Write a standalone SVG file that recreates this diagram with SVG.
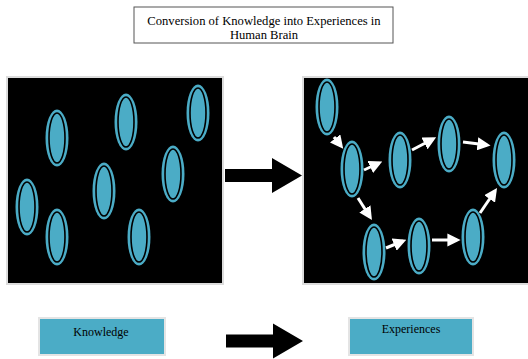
<svg xmlns="http://www.w3.org/2000/svg" xmlns:xlink="http://www.w3.org/1999/xlink" width="528" height="359" viewBox="0 0 528 359">
<defs>
<style>
.t{font-family:"Liberation Serif","Times New Roman",serif;font-size:12px;fill:#000;text-anchor:middle}
.tt{font-size:12.6px}
.panel{fill:#000;stroke:#dcdcdc;stroke-width:2}
.lbl{fill:#4BACC6;stroke:#e4e4e4;stroke-width:2}
.con{stroke:#fff;stroke-width:3;fill:none;marker-end:url(#ah)}
</style>
<marker id="ah" markerWidth="4.4" markerHeight="4.4" refX="3.2" refY="2.2" orient="auto" markerUnits="strokeWidth">
<path d="M0,0 L4.4,2.2 L0,4.4 Z" fill="#fff"/>
</marker>
<g id="cell">
<ellipse rx="11.5" ry="28.5" fill="#4BACC6"/>
<ellipse rx="8" ry="25" fill="none" stroke="#000" stroke-width="1.6"/>
</g>
<path id="bigArrow" d="M0,-6.5 L47,-6.5 L47,-17.5 L77,0 L47,17.5 L47,6.5 L0,6.5 Z" fill="#000"/>
</defs>
<rect width="528" height="359" fill="#fff"/>
<g id="title">
<rect x="134" y="7" width="259" height="36" fill="#fff" stroke="#555" stroke-width="1"/>
<text class="t tt" x="264" y="25">Conversion of Knowledge into Experiences in</text>
<text class="t tt" x="264" y="39">Human Brain</text>
</g>
<g id="leftPanel">
<rect class="panel" x="7" y="77" width="216" height="207"/>
<use xlink:href="#cell" x="57" y="138"/>
<use xlink:href="#cell" x="126" y="122"/>
<use xlink:href="#cell" x="198" y="113"/>
<use xlink:href="#cell" x="173" y="174"/>
<use xlink:href="#cell" x="104" y="191"/>
<use xlink:href="#cell" x="27" y="207"/>
<use xlink:href="#cell" x="57" y="237"/>
<use xlink:href="#cell" x="139" y="237"/>
</g>
<g id="middleArrow">
<use xlink:href="#bigArrow" x="225" y="175.5"/>
</g>
<g id="rightPanel">
<rect class="panel" x="303" y="77" width="227" height="207"/>
<use xlink:href="#cell" x="327" y="107"/>
<use xlink:href="#cell" x="352" y="169"/>
<use xlink:href="#cell" x="400" y="160"/>
<use xlink:href="#cell" x="449" y="144"/>
<use xlink:href="#cell" x="504" y="160"/>
<use xlink:href="#cell" x="374" y="252"/>
<use xlink:href="#cell" x="419" y="246"/>
<use xlink:href="#cell" x="473" y="237"/>
</g>
<g id="connectors">
<line class="con" x1="334" y1="137" x2="341" y2="146"/>
<line class="con" x1="364" y1="170" x2="379" y2="163"/>
<line class="con" x1="412" y1="150" x2="433" y2="139"/>
<line class="con" x1="463" y1="142" x2="487" y2="145"/>
<line class="con" x1="358" y1="198" x2="370" y2="217"/>
<line class="con" x1="386" y1="248" x2="403" y2="241"/>
<line class="con" x1="432" y1="240" x2="457" y2="240"/>
<line class="con" x1="480" y1="213" x2="495" y2="191"/>
</g>
<g id="knowledge">
<rect class="lbl" x="39" y="318" width="126" height="37"/>
<text class="t" x="101" y="336">Knowledge</text>
</g>
<g id="bottomArrow">
<use xlink:href="#bigArrow" x="226" y="341"/>
</g>
<g id="experiences">
<rect class="lbl" x="349" y="318" width="124" height="37"/>
<text class="t" x="411" y="333">Experiences</text>
</g>
</svg>
